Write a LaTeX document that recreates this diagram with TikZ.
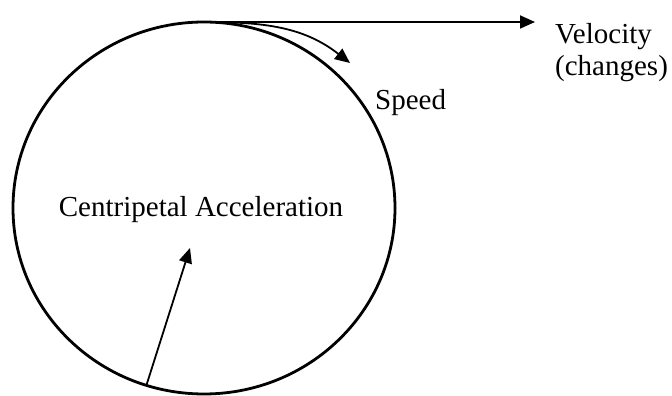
\documentclass[tikz,border=0pt]{standalone}
\usepackage{fontspec}
\setmainfont{Liberation Serif}
\usetikzlibrary{arrows.meta}
\usetikzlibrary{shapes.geometric}

\tikzset{
  motion/.style={line width=1.8pt, -{Triangle[length=15pt,width=13pt]}},
  lbl/.style={font=\fontsize{29}{32}\selectfont, inner sep=0pt}
}

\begin{document}
\begin{tikzpicture}[x=1pt,y=1pt]
    \useasboundingbox (0,0) rectangle (672,396);

    % Circular path
    \node[ellipse, draw, line width=2.8pt, minimum width=382pt, minimum height=372pt,
          inner sep=0pt, outer sep=0pt] (path) at (204,188) {};
    \node[lbl, anchor=base] (acc) at (201,179) {Centripetal Acceleration};

    % Velocity along the tangent
    \coordinate (vtip) at (535,374);
    \draw[motion] (path.north) -- (vtip);
    \node[lbl, anchor=north west, align=left] (vel) at (555,373) {Velocity\\(changes)};

    % Speed along the path
    \coordinate (stip) at (350,333);
    \draw[motion] (path.north) to[out=0, in=142] (stip);
    \node[lbl, anchor=base west] (spd) at (375,286) {Speed};

    % Acceleration toward the centre
    \coordinate (ctip) at (190,148);
    \draw[motion] (path.-108) -- (ctip);
\end{tikzpicture}
\end{document}
